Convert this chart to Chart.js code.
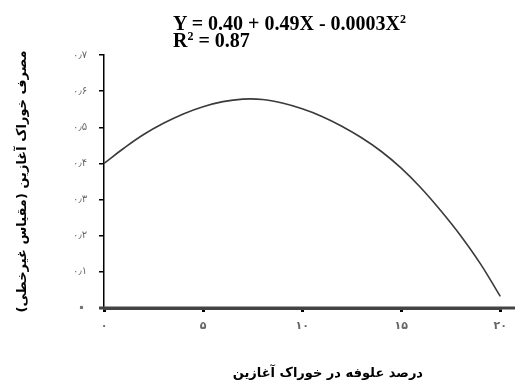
<!DOCTYPE html>
<html>
<head>
<meta charset="utf-8">
<script src="https://cdn.jsdelivr.net/npm/chart.js@4.4.1/dist/chart.umd.min.js"></script>
<style>
    html, body { margin: 0; padding: 0; background: #fff; }
    #wrap { position: relative; width: 515px; height: 390px; }
    #equation {
        position: absolute; left: 173px; top: 15px;
        font: bold 20px 'Liberation Serif', 'Times New Roman', serif;
        line-height: 17px; color: #000; white-space: nowrap;
    }
    #equation .sup { font-size: 12px; line-height: 0; vertical-align: 7px; }
</style>
</head>
<body>
<div id="wrap">
    <canvas id="intakeChart" width="515" height="390"></canvas>
    <div id="equation">Y = 0.40 + 0.49X - 0.0003X<span class="sup">2</span><br>R<span class="sup">2</span> = 0.87</div>
</div>
<script>
// values
const forageLevels = [0, 1, 2, 3, 4, 5, 6, 7, 8, 9, 10, 11, 12, 13, 14, 15, 16, 17, 18, 19, 20];
const feedIntake = [0.400, 0.442, 0.480, 0.511, 0.537, 0.557, 0.571, 0.578, 0.577, 0.567, 0.551,
                    0.530, 0.503, 0.471, 0.433, 0.387, 0.332, 0.269, 0.200, 0.122, 0.032];

const xTickValues = [0, 5, 10, 15, 20];
const xTickLabels = ['۰', '۵', '۱۰', '۱۵', '۲۰'];
const yTickLabels = ['۰', '۰٫۱', '۰٫۲', '۰٫۳', '۰٫۴', '۰٫۵', '۰٫۶', '۰٫۷'];

const yAxisTitle = 'مصرف خوراک آغازین (مقیاس غیرخطی)';
const xAxisTitle = 'درصد علوفه در خوراک آغازین';

// x title sits a bit right of the plot centre in the original
const xTitlePlugin = {
    id: 'xTitle',
    afterDraw(chart) {
        const { ctx, chartArea } = chart;
        ctx.save();
        // stretch the thick x axis past both ends like the original
        ctx.strokeStyle = '#444';
        ctx.lineWidth = 3;
        ctx.beginPath();
        ctx.moveTo(chartArea.left - 5, chartArea.bottom);
        ctx.lineTo(chart.width, chartArea.bottom);
        ctx.stroke();

        ctx.fillStyle = '#000';
        ctx.font = "bold 13px 'DejaVu Sans'";
        ctx.textAlign = 'center';
        ctx.textBaseline = 'middle';
        ctx.fillText(xAxisTitle, chartArea.left + chartArea.width * 0.565, 374);
        ctx.restore();
    }
};

const chart = new Chart(document.getElementById('intakeChart'), {
    type: 'line',
    data: {
        datasets: [{
            data: forageLevels.map((x, i) => ({ x: x, y: feedIntake[i] })),
            borderColor: '#3a3a3a',
            borderWidth: 1.6,
            pointRadius: 0,
            tension: 0.4,
            clip: false
        }]
    },
    options: {
        responsive: false,
        devicePixelRatio: 1,
        animation: false,
        layout: { padding: { top: 55, right: 11, left: 0, bottom: 0 } },
        plugins: {
            legend: { display: false },
            tooltip: { enabled: false }
        },
        scales: {
            x: {
                type: 'linear',
                min: 0,
                max: 20,
                afterFit: (scale) => { scale.height = 82; },
                grid: {
                    drawOnChartArea: false,
                    drawTicks: true,
                    tickLength: 4,
                    lineWidth: 3,
                    color: '#000'
                },
                border: { color: '#444', width: 3 },
                ticks: {
                    stepSize: 5,
                    padding: 8,
                    color: '#666',
                    font: { family: 'DejaVu Sans', size: 11, weight: 'bold' },
                    maxRotation: 0,
                    callback: (v) => {
                        const i = xTickValues.indexOf(v);
                        return i >= 0 ? xTickLabels[i] : '';
                    }
                }
            },
            y: {
                min: 0,
                max: 0.7,
                afterFit: (scale) => { scale.width = 104; },
                grid: {
                    drawOnChartArea: false,
                    drawTicks: true,
                    tickLength: 5,
                    lineWidth: 1.5,
                    color: '#000'
                },
                border: { color: '#000', width: 1.5 },
                ticks: {
                    stepSize: 0.1,
                    padding: 12,
                    color: (c) => (c.tick && c.tick.value === 0) ? '#777' : '#666',
                    font: (c) => (c.tick && c.tick.value === 0)
                        ? { family: 'DejaVu Sans', size: 18, weight: 'bold' }
                        : { family: 'DejaVu Sans', size: 10 },
                    callback: (v) => yTickLabels[Math.round(v * 10)]
                },
                title: {
                    display: true,
                    text: yAxisTitle,
                    color: '#000',
                    font: { family: 'DejaVu Sans', size: 13, weight: 'bold' },
                    padding: { top: 15, bottom: 0 }
                }
            }
        }
    },
    plugins: [xTitlePlugin]
});
</script>
</body>
</html>
